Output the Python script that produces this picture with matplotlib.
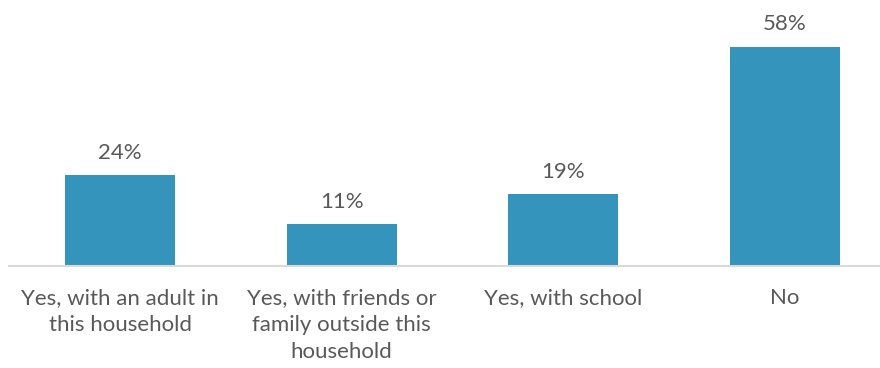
import matplotlib
matplotlib.use("Agg")
import matplotlib.pyplot as plt

categories = [
    "Yes, with an adult in\nthis household",
    "Yes, with friends or\nfamily outside this\nhousehold",
    "Yes, with school",
    "No",
]
values = [24, 11, 19, 58]

W, H = 880, 368
text_color = "#595959"
bar_color = "#3594BB"

plt.rcParams["font.family"] = ["Lato", "DejaVu Sans"]

fig = plt.figure(figsize=(W / 100, H / 100), dpi=100)
# plot area in pixels: left 9, baseline at y=266, spacing ~221.7 px per category
left = 9.2 / W
bottom = (H - 266) / H
height = 60 * 3.776 / H
width = 4 * 221.7 / W
ax = fig.add_axes([left, bottom, width, height])

x = list(range(len(values)))
bars = ax.bar(x, values, width=0.496, color=bar_color, zorder=2)

for xi, v in zip(x, values):
    ax.annotate(f"{v}%", (xi, v), xytext=(0, 9), textcoords="offset points",
                ha="center", va="bottom", fontsize=16, color=text_color)

ax.set_xlim(-0.5, 3.5)
ax.set_ylim(0, 60)
ax.set_yticks([])
ax.set_xticks(x)
ax.set_xticklabels(categories, fontsize=16, color=text_color, linespacing=1.42)
ax.tick_params(axis="x", length=0, pad=16)

for side in ["top", "right", "left"]:
    ax.spines[side].set_visible(False)
ax.spines["bottom"].set_color("#D9D9D9")
ax.spines["bottom"].set_linewidth(1.5)

fig.savefig("out.png", dpi=100)
